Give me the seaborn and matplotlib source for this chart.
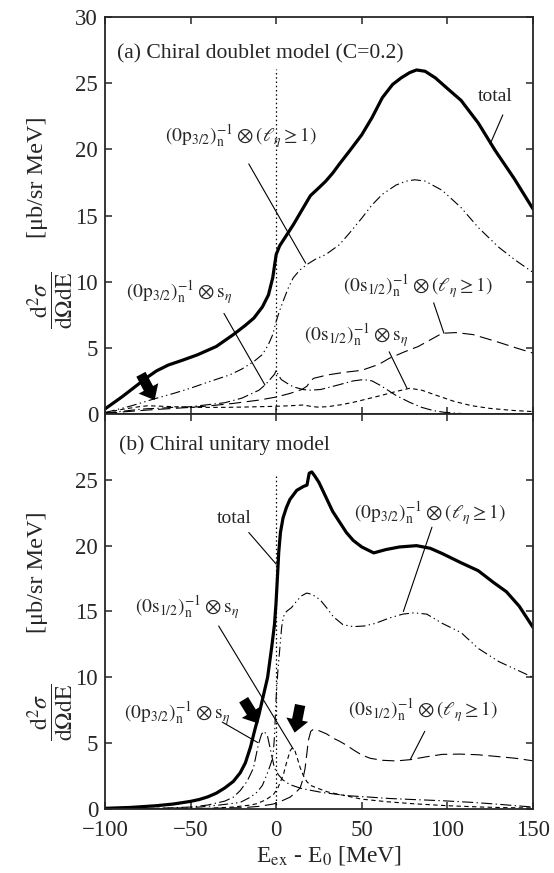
import numpy as np
import pandas as pd
import matplotlib
matplotlib.use("Agg")
import matplotlib.pyplot as plt
import seaborn as sns

# ---------------- data ----------------
# Panel (a): chiral doublet model
a_total_E = [-100, -90, -80, -75, -70, -63, -55, -46, -35, -25, -18, -13, -8, -4.5, -2, 0, 2, 4, 7, 10,
             15, 20, 25, 29, 33, 37, 43, 50, 56, 62, 68, 73, 78, 82, 87, 93, 100, 108, 118, 128, 139, 150]
a_total_v = [0.38, 1.3, 2.3, 2.8, 3.25, 3.7, 4.05, 4.47, 5.1, 6.0, 6.7, 7.25, 8.1, 9.0, 10.3, 12.05, 12.7, 13.1, 13.7, 14.3,
             15.4, 16.5, 17.1, 17.6, 18.2, 18.9, 19.9, 21.1, 22.4, 23.9, 24.9, 25.4, 25.8, 26.0, 25.9, 25.4, 24.6, 23.7, 22.0, 19.9, 17.8, 15.5]

a_p3l_E = [-100, -85, -71, -60, -50, -40, -27, -20, -13, -8, -4.6, -2, 0, 2, 4, 7, 10, 14, 18, 23, 29, 37, 43, 50,
           56, 62, 70, 76, 81, 87, 97, 108, 118, 130, 140, 150]
a_p3l_v = [0.1, 0.6, 1.15, 1.55, 1.95, 2.4, 2.96, 3.4, 3.97, 4.5, 5.23, 6.0, 7.0, 7.8, 8.5, 9.5, 10.3, 10.9, 11.3, 11.7, 12.05, 12.8, 13.7, 14.8,
           15.8, 16.6, 17.3, 17.6, 17.7, 17.6, 16.9, 15.6, 14.1, 12.6, 11.6, 10.7]

a_s1l_E = [-100, -90, -75, -60, -50, -40, -25, -10, 0, 8, 15, 18, 20, 22, 30, 40, 50, 60, 66, 75, 83, 90, 97, 105, 115, 128, 140, 150]
a_s1l_v = [0.05, 0.15, 0.3, 0.42, 0.5, 0.6, 0.8, 1.05, 1.28, 1.55, 1.85, 2.1, 2.5, 2.7, 2.95, 3.15, 3.3, 3.75, 4.2, 4.7, 5.1, 5.6, 6.1, 6.15, 6.0, 5.5, 5.0, 4.6]

a_p3s_E = [-100, -90, -80, -75, -70, -60, -50, -40, -30, -20, -15, -10, -6, -3, -1, 0, 1, 3, 6, 10, 16, 20, 26, 35, 45, 51,
           56, 61, 70, 78, 85, 92, 98, 106, 114, 130, 150]
a_p3s_v = [0.05, 0.2, 0.35, 0.4, 0.42, 0.5, 0.55, 0.7, 0.85, 1.2, 1.5, 1.8, 2.25, 2.7, 3.0, 3.3, 3.0, 2.6, 2.35, 2.05, 1.84, 1.8, 1.85, 2.15, 2.5, 2.6,
           2.5, 2.15, 1.4, 0.88, 0.5, 0.25, 0.13, 0.05, 0.0, 0.0, 0.0]

a_s1s_E = [-100, -90, -80, -75, -70, -60, -50, -40, -30, -20, -10, 0, 8, 16, 20, 24, 30, 38, 45, 52, 61, 70, 78, 85, 94, 104, 114, 125, 138, 150]
a_s1s_v = [0.1, 0.35, 0.55, 0.62, 0.6, 0.55, 0.5, 0.5, 0.5, 0.52, 0.55, 0.58, 0.62, 0.68, 0.58, 0.52, 0.55, 0.7, 0.88, 1.1, 1.39, 1.7, 1.94, 1.8, 1.39, 0.95, 0.63, 0.42, 0.27, 0.18]

# Panel (b): chiral unitary model
b_total_E = [-100, -85, -70, -60, -50, -45, -40, -35, -30, -25, -21, -18, -15, -12.5, -10, -7.5, -5, -2.6, -1, -0.1, 0.7, 1.5, 2.5, 4,
             6, 8, 12, 16, 18, 19.3, 20.8, 22.5, 25, 29, 33, 37, 41, 45, 50, 57, 64, 72, 82, 90, 97, 108, 118, 127, 134.5, 142, 150]
b_total_v = [0.05, 0.12, 0.25, 0.38, 0.58, 0.72, 0.92, 1.2, 1.6, 2.1, 2.75, 3.5, 4.7, 6.0, 7.2, 8.6, 10.0, 12.3, 14.0, 15.6, 17.5, 19.5, 21.0, 22.1,
             22.9, 23.5, 24.2, 24.5, 24.6, 25.5, 25.6, 25.3, 24.8, 23.7, 22.6, 21.8, 21.0, 20.4, 19.9, 19.45, 19.7, 19.9, 20.0, 19.8, 19.4, 18.7, 18.1, 17.2, 16.5, 15.4, 13.8]

b_p3l_E = [-100, -70, -50, -40, -30, -21, -15, -11, -8, -5.5, -3.5, -2.5, -1.6, -1, -0.5, 0, 1, 2.2, 3.2, 4.2, 6, 9, 12, 15, 17.8, 21,
           25.6, 30, 33.4, 39, 45, 51.5, 58, 66, 74, 80.5, 88, 97, 108, 118, 130, 140, 150]
b_p3l_v = [0.0, 0.05, 0.1, 0.2, 0.35, 0.5, 0.9, 1.3, 1.8, 2.6, 3.3, 3.7, 4.4, 5.5, 7.0, 8.5, 10.5, 12.3, 13.8, 14.6, 15.0, 15.3, 15.8, 16.2, 16.4, 16.3,
           15.9, 15.2, 14.6, 14.0, 13.85, 13.9, 14.1, 14.5, 14.8, 14.9, 14.8, 14.1, 13.4, 12.2, 11.2, 10.6, 10.0]

b_p3s_E = [-100, -70, -50, -40, -30, -25, -21, -17, -13.3, -10.4, -8.5, -7, -5, -3, -1, 1.3, 4, 8, 15, 27, 43, 55, 66, 80, 97, 115, 128, 140, 150]
b_p3s_v = [0.0, 0.05, 0.15, 0.3, 0.6, 0.9, 1.4, 2.1, 3.1, 4.9, 5.7, 5.9, 5.5, 4.3, 3.1, 2.6, 2.2, 1.85, 1.55, 1.25, 1.0, 0.9, 0.8, 0.72, 0.63, 0.5, 0.38, 0.25, 0.15]

b_s1s_E = [-100, -60, -40, -25, -15, -11.4, -6, -1.6, 1, 4.2, 6, 8.1, 9.1, 10, 11, 12.5, 14, 16, 17.8, 20, 23.7, 30, 37, 50, 65, 80, 100, 120, 135, 150]
b_s1s_v = [0.0, 0.02, 0.05, 0.15, 0.3, 0.4, 0.7, 1.1, 1.6, 2.6, 3.5, 4.4, 4.6, 4.6, 4.4, 3.8, 3.15, 2.5, 2.1, 1.8, 1.6, 1.3, 1.1, 0.75, 0.55, 0.4, 0.25, 0.15, 0.1, 0.08]

b_s1l_E = [-100, -50, -20, -10, -1.6, 3, 8.1, 11, 14, 15.5, 16.9, 18, 18.8, 20.2, 21.7, 25, 29.5, 33, 37, 41, 45, 50, 55, 62, 70,
           78.5, 87, 97, 107.5, 118, 128, 140, 150]
b_s1l_v = [0.0, 0.02, 0.1, 0.2, 0.38, 0.6, 0.9, 1.2, 1.6, 2.2, 3.1, 4.3, 5.2, 5.9, 6.05, 5.95, 5.7, 5.4, 5.15, 4.85, 4.5, 4.1, 3.85, 3.7, 3.65,
           3.75, 3.95, 4.15, 4.17, 4.12, 4.0, 3.85, 3.66]

x_ticks = [-100, -50, 0, 50, 100, 150]
x_ticklabels = ["\u2212100", "\u221250", "0", "50", "100", "150"]
a_yticks = [0, 5, 10, 15, 20, 25, 30]
b_yticks = [0, 5, 10, 15, 20, 25]

# ---------------- style ----------------
sns.set_style("ticks")
plt.rcParams["font.family"] = ["Liberation Serif", "DejaVu Serif"]
plt.rcParams["mathtext.fontset"] = "stix"
plt.rcParams["axes.linewidth"] = 1.3

fig = plt.figure(figsize=(5.54, 8.73), dpi=100)
ax_a = fig.add_axes([0.1895, 0.5258, 0.962 - 0.1895, 0.9805 - 0.5258])
ax_b = fig.add_axes([0.1895, 0.0733, 0.962 - 0.1895, 0.5258 - 0.0733])

thin = 0.8
styles = {
    "total": dict(color="black", lw=2.3, ls="-"),
    "p3l": dict(color="black", lw=thin, ls=(0, (9, 3, 1.2, 3, 1.2, 3))),
    "p3s": dict(color="black", lw=thin, ls=(0, (10, 3, 1.2, 3))),
    "s1l": dict(color="black", lw=thin, ls=(0, (11, 5))),
    "s1s": dict(color="black", lw=thin, ls=(0, (4, 3))),
}

def draw(ax, E, v, key):
    df = pd.DataFrame({"E": E, "v": v})
    st = styles[key]
    sns.lineplot(data=df, x="E", y="v", ax=ax, color=st["color"], lw=st["lw"],
                 linestyle=st["ls"], sort=False, estimator=None)

draw(ax_a, a_s1s_E, a_s1s_v, "s1s")
draw(ax_a, a_s1l_E, a_s1l_v, "s1l")
draw(ax_a, a_p3s_E, a_p3s_v, "p3s")
draw(ax_a, a_p3l_E, a_p3l_v, "p3l")
draw(ax_a, a_total_E, a_total_v, "total")

draw(ax_b, b_s1s_E, b_s1s_v, "s1s")
draw(ax_b, b_s1l_E, b_s1l_v, "s1l")
draw(ax_b, b_p3s_E, b_p3s_v, "p3s")
draw(ax_b, b_p3l_E, b_p3l_v, "p3l")
draw(ax_b, b_total_E, b_total_v, "total")

# threshold line at E = 0
ax_a.vlines(0, 0, 26.1, colors="black", lw=0.9, linestyles=(0, (1.2, 2.2)))
ax_b.vlines(0, 0, 25.3, colors="black", lw=0.9, linestyles=(0, (1.2, 2.2)))

tick_fs = 16.5
for ax in (ax_a, ax_b):
    ax.set_xlim(-100, 150)
    ax.set_ylim(0, 30)
    ax.set_xticks(x_ticks)
    ax.tick_params(direction="in", top=True, right=True, length=5, width=1.1,
                   labelsize=tick_fs, pad=5)
    ax.tick_params(axis="x", pad=8)
    ax.set_xlabel("")
    ax.set_ylabel("")
    for s in ax.spines.values():
        s.set_visible(True)
        s.set_linewidth(1.3)

ax_a.set_yticks(a_yticks)
ax_b.set_yticks(b_yticks)
ax_a.tick_params(labelbottom=False)
ax_b.set_xticklabels(x_ticklabels)
ax_a.set_yticklabels([str(t) for t in a_yticks])
ax_b.set_yticklabels([str(t) for t in b_yticks])

ax_b.set_xlabel(r"E$_{\mathrm{ex}}$ - E$_0$ [MeV]", fontsize=17)
ax_b.xaxis.set_label_coords(0.523, -0.088)

# y labels
for yc_frac, yc_br in ((1 - 300 / 873, 1 - 177 / 873), (1 - 712 / 873, 1 - 572 / 873)):
    fig.text(50 / 554, yc_frac, r"$\dfrac{\mathrm{d}^2\sigma}{\mathrm{d}\Omega\mathrm{d}\mathrm{E}}$",
             rotation=90, ha="center", va="center", fontsize=17)
    fig.text(37.5 / 554, yc_br, "[\u03bcb/sr MeV]", rotation=90, ha="center", va="center", fontsize=17.5)

# panel titles
ax_a.text(-92.7, 27.2, "(a) Chiral doublet model (C=0.2)", fontsize=15.6, ha="left", va="center")
ax_b.text(-91.7, 27.65, "(b) Chiral unitary model", fontsize=15.6, ha="left", va="center")

lab_fs = 14
p3l = r"$(0\mathrm{p}_{3/2})_{\mathrm{n}}^{-1}\otimes(\ell_{\eta}\geq 1)$"
p3s = r"$(0\mathrm{p}_{3/2})_{\mathrm{n}}^{-1}\otimes\mathrm{s}_{\eta}$"
s1l = r"$(0\mathrm{s}_{1/2})_{\mathrm{n}}^{-1}\otimes(\ell_{\eta}\geq 1)$"
s1s = r"$(0\mathrm{s}_{1/2})_{\mathrm{n}}^{-1}\otimes\mathrm{s}_{\eta}$"

def label(ax, txt, pos, line_from, line_to, ha="left"):
    ax.text(pos[0], pos[1], txt, fontsize=lab_fs, ha=ha, va="center")
    ax.annotate("", xy=line_to, xytext=line_from,
                arrowprops=dict(arrowstyle="-", lw=0.8, color="black", shrinkA=0, shrinkB=0))

label(ax_a, "total", (128, 24.0), (132.4, 22.6), (125, 20.4), ha="center")
label(ax_a, p3l, (-64.7, 21.0), (-16, 18.9), (17.2, 11.4))
label(ax_a, p3s, (-87.5, 9.2), (-30.5, 7.6), (-6.6, 2.2))
label(ax_a, s1l, (39, 9.7), (92, 8.4), (98, 6.1))
label(ax_a, s1s, (16.2, 6.0), (66, 4.7), (76.4, 1.95))

label(ax_b, "total", (-24.3, 22.1), (-16, 21.0), (0, 18.6), ha="center")
label(ax_b, p3l, (45.3, 22.5), (91, 21.4), (74.3, 15.0))
label(ax_b, s1s, (-82.4, 15.3), (-33.6, 13.9), (10, 4.55))
label(ax_b, p3s, (-88.6, 7.3), (-31.5, 6.6), (-10.8, 5.05))
label(ax_b, s1l, (42, 7.5), (86.8, 5.9), (78.5, 3.8))

# bold arrows
arrow_style = "simple,head_length=0.95,head_width=1.6,tail_width=0.75"
for ax, tail, tip in ((ax_a, (-79, 3.0), (-71, 1.05)),
                      (ax_b, (-19, 8.3), (-10.5, 6.5)),
                      (ax_b, (14, 7.9), (10.8, 5.8))):
    ax.annotate("", xy=tip, xytext=tail,
                arrowprops=dict(arrowstyle=arrow_style, color="black", mutation_scale=10,
                                shrinkA=0, shrinkB=0, lw=0))

fig.savefig("out.png", dpi=100)
